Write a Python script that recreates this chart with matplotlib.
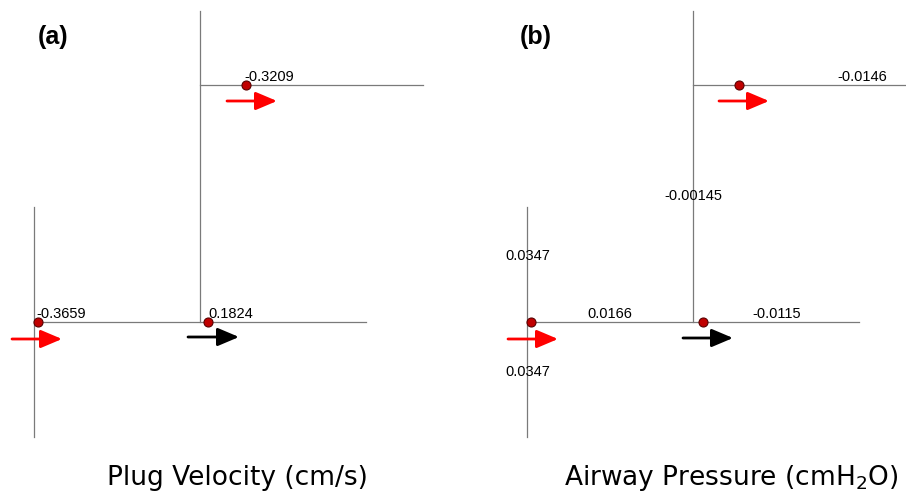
import matplotlib.pyplot as plt
from matplotlib.patches import FancyArrowPatch

# diagram layout in pixel space (x right, y down)
panel_tags = ["(a)", "(b)"]
panel_tag_xy = [(38, 37), (520, 37)]
panel_titles = ["Plug Velocity (cm/s)", "Airway Pressure (cmH$_2$O)"]
panel_title_xy = [(237, 478), (731, 478)]

# branch segments: (x0, y0, x1, y1)
segments_a = [(34, 207, 34, 437), (34, 322, 366, 322), (200, 11, 200, 322), (200, 85, 423, 85)]
segments_b = [(527, 207, 527, 437), (527, 322, 859, 322), (693, 11, 693, 322), (693, 85, 906, 85)]

# plug positions
plugs_a_x = [38, 208, 246]
plugs_a_y = [322, 322, 85]
plugs_b_x = [531, 703, 739]
plugs_b_y = [322, 322, 85]

# value labels
labels_a = ["-0.3659", "0.1824", "-0.3209"]
labels_a_xy = [(36, 318), (208, 318), (244, 81)]
labels_a_ha = ["left", "left", "left"]
labels_b = ["0.0347", "0.0347", "0.0166", "-0.0115", "-0.00145", "-0.0146"]
labels_b_xy = [(528, 260), (528, 376), (610, 318), (777, 318), (693, 200), (862, 81)]
labels_b_ha = ["center"] * 6

# flow arrows: (x0, x1, y, colour)
arrows = [(12, 62, 339, "red"), (188, 239, 337, "black"), (227, 277, 101, "red"),
          (508, 558, 339, "red"), (683, 733, 338, "black"), (719, 769, 101, "red")]

fig = plt.figure(figsize=(9.06, 4.93), dpi=100)
ax = fig.add_axes([0, 0, 1, 1])
ax.set_xlim(0, 906)
ax.set_ylim(493, 0)
ax.axis("off")

for x0, y0, x1, y1 in segments_a + segments_b:
    ax.plot([x0, x1], [y0, y1], color="#7a7a7a", lw=0.9, zorder=1)

ax.plot(plugs_a_x + plugs_b_x, plugs_a_y + plugs_b_y, "o", ms=6.5,
        mfc="#c00000", mec="#5a0000", mew=0.8, zorder=3)

for txt, (x, y), ha in zip(labels_a + labels_b, labels_a_xy + labels_b_xy, labels_a_ha + labels_b_ha):
    ax.text(x, y, txt, ha=ha, va="baseline", fontsize=10.5, family="Liberation Sans", zorder=4)

for x0, x1, y, c in arrows:
    ax.add_patch(FancyArrowPatch((x0, y), (x1, y), arrowstyle="-|>,head_length=1.3,head_width=0.55",
                                 color=c, lw=2.0, mutation_scale=10, shrinkA=0, shrinkB=0, zorder=2))

for tag, (x, y) in zip(panel_tags, panel_tag_xy):
    ax.text(x, y, tag, ha="left", va="center", fontsize=18, fontweight="bold", family="Liberation Sans")

for t, (x, y) in zip(panel_titles, panel_title_xy):
    ax.text(x, y, t, ha="center", va="center", fontsize=19, family="DejaVu Sans")

fig.savefig("out.png", dpi=100)
